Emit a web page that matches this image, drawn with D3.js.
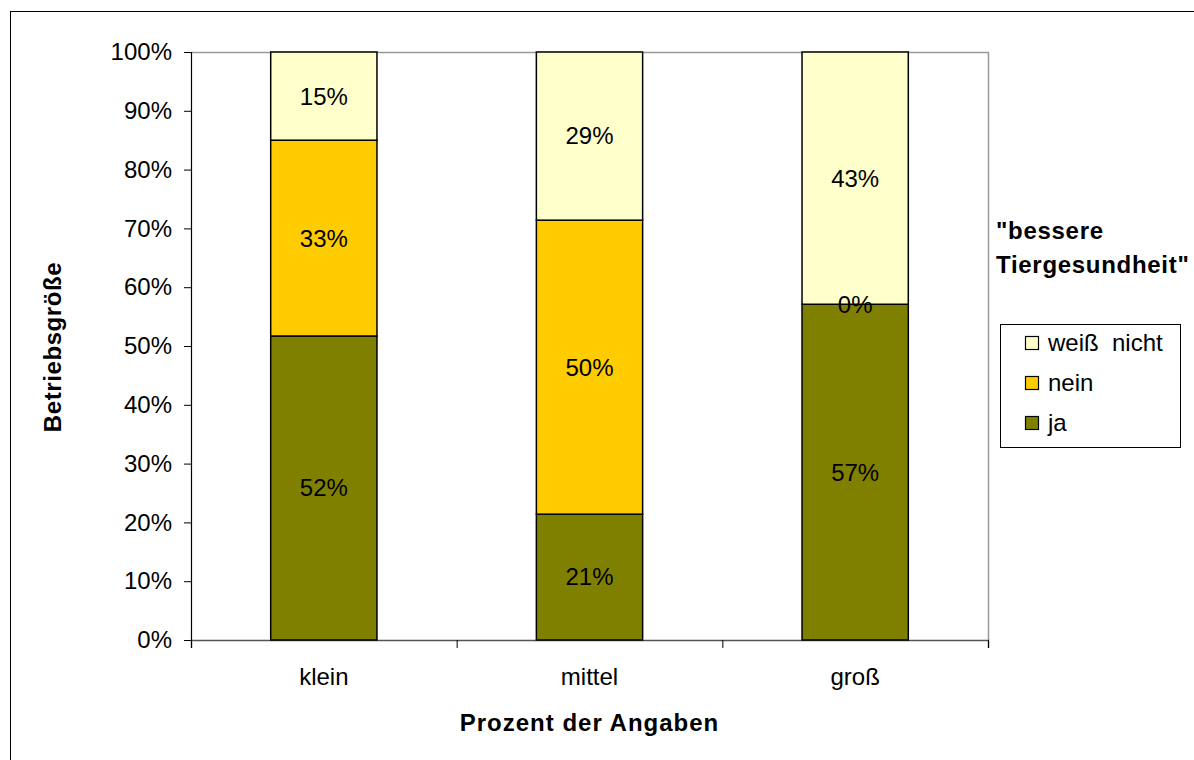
<!DOCTYPE html>
<html>
<head>
<meta charset="utf-8">
<script src="https://cdn.jsdelivr.net/npm/d3@7"></script>
<style>
  body { margin: 0; background: #fff; }
  svg { font-family: "Liberation Sans", Arial, sans-serif; }
</style>
</head>
<body>
<svg width="1194" height="760"></svg>
<script>
const categories = ["klein", "mittel", "groß"];
const seriesNames = ["ja", "nein", "weiß nicht"];
const ja = [0.517, 0.214, 0.571];
const nein = [0.333, 0.500, 0.000];
const weissNicht = [0.150, 0.286, 0.429];
const yTicks = [0, 0.1, 0.2, 0.3, 0.4, 0.5, 0.6, 0.7, 0.8, 0.9, 1.0];
const colors = ["#808000", "#ffcc00", "#ffffcc"];

const svg = d3.select("svg");
const plot = {left: 191, right: 988, top: 52, bottom: 640};
const fs = 24;

// outer frame
svg.append("rect")
   .attr("x", 10.5).attr("y", 11.5)
   .attr("width", 1200).attr("height", 800)
   .attr("fill", "none").attr("stroke", "#000");

const rows = categories.map((c, i) => ({cat: c, "ja": ja[i], "nein": nein[i], "weiß nicht": weissNicht[i]}));
const stacked = d3.stack().keys(seriesNames)(rows);

const x = d3.scaleBand().domain(categories)
   .range([plot.left, plot.right])
   .paddingInner(0.6).paddingOuter(0.3);
const y = d3.scaleLinear().domain([0, 1]).range([plot.bottom, plot.top]);

// plot area border (top/right grey)
svg.append("path")
   .attr("d", `M${plot.left},${plot.top + 0.5}H${plot.right + 0.5}V${plot.bottom}`)
   .attr("fill", "none").attr("stroke", "#999").attr("stroke-width", 1.5);

// y axis
const yAxis = svg.append("g")
   .attr("transform", `translate(${plot.left},0)`)
   .call(d3.axisLeft(y).tickValues(yTicks).tickFormat(d3.format(".0%")).tickSize(7).tickPadding(12));
yAxis.select(".domain").attr("stroke", "#000").attr("stroke-width", 1.2);
yAxis.selectAll("text").attr("font-size", fs).attr("fill", "#000")
   .attr("font-family", "Liberation Sans, Arial, sans-serif");

// x axis: labels + ticks at band boundaries
const xb = d3.scaleLinear().domain([0, categories.length]).range([plot.left, plot.right]);
const xTickG = svg.append("g").attr("transform", `translate(0,${plot.bottom})`)
   .call(d3.axisBottom(xb).ticks(categories.length).tickFormat("").tickSize(8));
xTickG.select(".domain").attr("stroke", "#555").attr("stroke-width", 1.5);
xTickG.selectAll(".tick line").attr("stroke", "#000");

const xLab = svg.append("g").attr("transform", `translate(0,${plot.bottom})`)
   .call(d3.axisBottom(x).tickSize(0).tickPadding(28));
xLab.select(".domain").remove();
xLab.selectAll("text").attr("font-size", fs).attr("fill", "#000")
   .attr("font-family", "Liberation Sans, Arial, sans-serif");

// bars
const layer = svg.append("g").selectAll("g")
   .data(stacked).join("g")
   .attr("fill", (d, i) => colors[i]);

layer.selectAll("rect")
   .data(d => d).join("rect")
   .attr("x", d => x(d.data.cat))
   .attr("y", d => y(d[1]))
   .attr("width", x.bandwidth())
   .attr("height", d => y(d[0]) - y(d[1]))
   .attr("stroke", "#000").attr("stroke-width", 1.5);

// value labels (drawn above all bars)
svg.append("g").selectAll("text")
   .data(stacked.flatMap(s => Array.from(s)))
   .join("text")
   .attr("x", d => x(d.data.cat) + x.bandwidth() / 2)
   .attr("y", d => y((d[0] + d[1]) / 2))
   .attr("dy", "0.35em")
   .attr("text-anchor", "middle")
   .attr("font-size", fs).attr("fill", "#000")
   .text(d => d3.format(".0%")(d[1] - d[0]));

// axis titles
svg.append("text")
   .attr("x", (plot.left + plot.right) / 2).attr("y", 731)
   .attr("text-anchor", "middle").attr("font-size", fs).attr("font-weight", "bold")
   .attr("letter-spacing", 1)
   .text("Prozent der Angaben");

svg.append("text")
   .attr("transform", "translate(61,347) rotate(-90)")
   .attr("text-anchor", "middle").attr("font-size", fs).attr("font-weight", "bold")
   .attr("letter-spacing", 0.6)
   .text("Betriebsgröße");

// legend title
const title = svg.append("text").attr("font-size", fs).attr("font-weight", "bold")
   .attr("letter-spacing", 0.7);
title.append("tspan").attr("x", 996).attr("y", 239).text("\"bessere");
title.append("tspan").attr("x", 996).attr("y", 273).text("Tiergesundheit\"");

// legend
svg.append("rect")
   .attr("x", 1000.5).attr("y", 324.5).attr("width", 180).attr("height", 123)
   .attr("fill", "#fff").attr("stroke", "#000");

const legendItems = seriesNames.map((n, i) => ({name: n, color: colors[i]})).reverse();
const leg = svg.append("g").selectAll("g")
   .data(legendItems).join("g")
   .attr("transform", (d, i) => `translate(1025,${343 + i * 40})`);
leg.append("rect")
   .attr("x", 0.5).attr("y", -6.5).attr("width", 13).attr("height", 13)
   .attr("fill", d => d.color).attr("stroke", "#000").attr("stroke-width", 1.2);
leg.append("text")
   .attr("x", 23).attr("dy", "0.35em").attr("font-size", fs)
   .attr("xml:space", "preserve")
   .text(d => d.name === "weiß nicht" ? "weiß  nicht" : d.name);
</script>
</body>
</html>
